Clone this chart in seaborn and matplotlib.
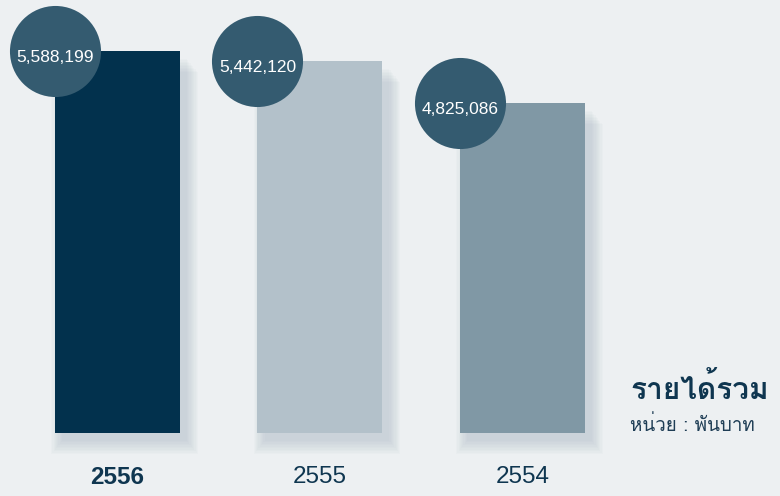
import matplotlib
matplotlib.use("Agg")
import matplotlib.pyplot as plt
from matplotlib import font_manager
from matplotlib.ft2font import FT2Font
import seaborn as sns
import pandas as pd

years = ["2556", "2555", "2554"]
revenue = [5588199, 5442120, 4825086]
bar_colors = ["#02314d", "#b3c1ca", "#8098a5"]
title = "รายได้รวม"
subtitle = "หน่วย : พันบาท"

# find a font that has Thai glyphs
thai_fonts = []
for f in font_manager.fontManager.ttflist:
    try:
        ft = FT2Font(f.fname)
        if ft.get_char_index(ord("ร")) and ft.get_char_index(ord("ม")):
            thai_fonts.append(f)
    except Exception:
        pass
thai_family = thai_fonts[0].name if thai_fonts else "DejaVu Sans"

sns.set_theme(style="white")
bg = "#edf0f2"
plt.rcParams["font.family"] = ["Liberation Sans", "DejaVu Sans"]

fig = plt.figure(figsize=(7.8, 4.96), dpi=100, facecolor=bg)
ax = fig.add_axes([0, 0, 1, 1])
ax.set_facecolor(bg)

df = pd.DataFrame({"year": years, "revenue": revenue})
width = 0.617
xs = list(range(len(years)))

# soft shadows
for k in range(10):
    grow = k * 0.006
    ax.bar([x + 0.035 for x in xs], revenue, width=width + 2 * grow,
           bottom=[-110000 - k * 22000 for _ in revenue], color="#7f97a8", alpha=0.03,
           zorder=1, linewidth=0)

sns.barplot(data=df, x="year", y="revenue", hue="year", palette=bar_colors,
            width=width, ax=ax, legend=False, zorder=3, saturation=1, linewidth=0)

lefts = [x - width / 2 for x in xs]
ax.scatter(lefts, revenue, s=4300, color="#345b70", zorder=5, linewidths=0)
for lx, v in zip(lefts, revenue):
    ax.annotate(f"{v:,}", (lx, v), xytext=(0, -4.5), textcoords="offset points",
                color="white", ha="center", va="center", fontsize=12.5, zorder=6)

for i, y in enumerate(years):
    ax.text(i, -650000, y, ha="center", va="center", fontsize=17.5,
            color="#0f3650", fontweight="bold" if i == 0 else "normal")

ax.text(2.531, 650000, title, fontsize=21.5, fontweight="bold",
        color="#0f3650", family=[thai_family, "DejaVu Sans"], va="center", ha="left")
ax.text(2.531, 117000, subtitle, fontsize=13.5, color="#1e3d55",
        family=[thai_family, "DejaVu Sans"], va="center", ha="left")

ax.set_xlim(-0.580, 3.272)
ax.set_ylim(-921620, 6334300)
ax.set_xticks([])
ax.set_yticks([])
ax.set_xlabel("")
ax.set_ylabel("")
for s in ax.spines.values():
    s.set_visible(False)

fig.savefig("out.png", dpi=100, facecolor=bg)
